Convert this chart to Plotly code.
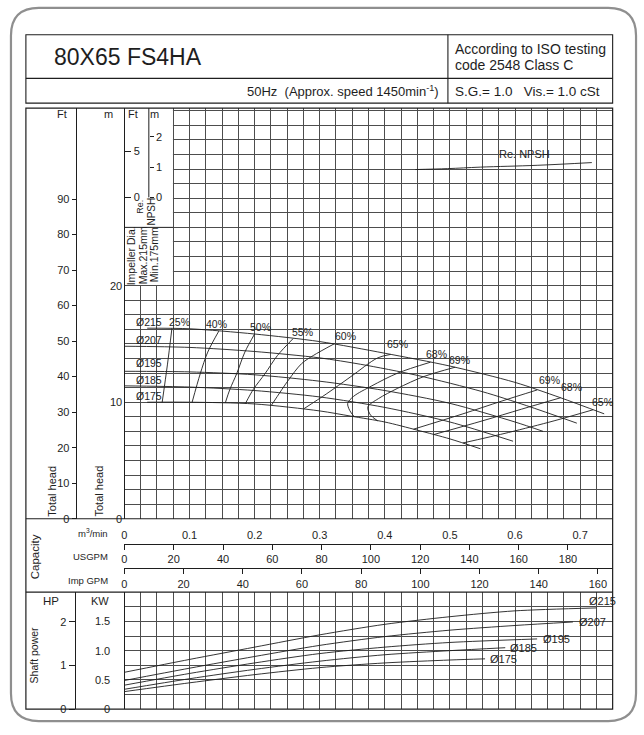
import plotly.graph_objects as go

W, H = 644, 735
FONT = "Liberation Sans, Arial, Helvetica, sans-serif"
INK = "#1e1e1e"
GRID = "#4d4d4d"

# ---------------- data ----------------
q_ticks = [0, 0.1, 0.2, 0.3, 0.4, 0.5, 0.6, 0.7]
usgpm_ticks = [0, 20, 40, 60, 80, 100, 120, 140, 160, 180]
impgpm_ticks = [0, 20, 40, 60, 80, 100, 120, 140, 160]
head_m_ticks = [0, 10, 20]
head_ft_ticks = [0, 10, 20, 30, 40, 50, 60, 70, 80, 90]
npsh_m_ticks = [0, 1, 2]
npsh_ft_ticks = [0, 5]
kw_ticks = [0, 0.5, 1.0, 1.5]
kw_labels = ["0", "0.5", "1.0", "1.5"]
hp_ticks = [0, 1, 2]

diameters = ["Ø215", "Ø207", "Ø195", "Ø185", "Ø175"]

# head curves: capacity (m3/min) vs total head (m)
head_q_215 = [0.035, 0.1, 0.2, 0.3, 0.4, 0.5, 0.6, 0.669, 0.737]
head_h_215 = [16.35, 16.3, 15.85, 15.2, 14.2, 13.1, 11.7, 10.4, 9.0]
head_q_207 = [0, 0.1, 0.2, 0.3, 0.363, 0.45, 0.55, 0.618, 0.695]
head_h_207 = [14.8, 14.7, 14.35, 13.8, 13.25, 12.3, 10.9, 9.7, 8.2]
head_q_195 = [0, 0.1, 0.2, 0.3, 0.4, 0.5, 0.6, 0.643]
head_h_195 = [12.65, 12.6, 12.35, 11.8, 11.0, 9.9, 8.3, 7.5]
head_q_185 = [0, 0.1, 0.2, 0.3, 0.4, 0.5, 0.597]
head_h_185 = [11.4, 11.3, 11.0, 10.45, 9.55, 8.3, 6.65]
head_q_175 = [0.035, 0.1, 0.2, 0.3, 0.348, 0.4, 0.45, 0.5, 0.547]
head_h_175 = [10.0, 10.0, 9.85, 9.25, 8.8, 8.3, 7.6, 6.85, 6.0]

# head curve label positions (capacity, head)
head_label_q = [0.0153, 0.0153, 0.0153, 0.0153, 0.0153]
head_label_h = [16.85, 15.3, 13.36, 11.9, 10.55]

# iso-efficiency lines (capacity, head)
eff_names = ["25%", "40%", "50%", "55%", "60%", "65%", "68%", "69%", "69%", "68%", "65%"]
eff_q = [
    [0.073, 0.066, 0.058],
    [0.145, 0.128, 0.1165, 0.104],
    [0.2, 0.185, 0.1725, 0.162, 0.155],
    [0.259, 0.235, 0.216, 0.198, 0.186],
    [0.322, 0.29, 0.272, 0.252, 0.226],
    [0.409, 0.389, 0.348, 0.31, 0.276],
    [0.47, 0.42, 0.38, 0.352, 0.343, 0.346, 0.353],
    [0.508, 0.46, 0.42, 0.39, 0.374, 0.378, 0.389],
    [0.634, 0.58, 0.52, 0.444],
    [0.67, 0.61, 0.55, 0.475],
    [0.72, 0.66, 0.59, 0.52],
]
eff_h = [
    [16.35, 13.2, 10.0],
    [16.1, 14.3, 12.45, 10.0],
    [15.85, 14.3, 12.45, 11.1, 9.95],
    [15.45, 14.0, 12.45, 11.1, 9.9],
    [15.0, 14.0, 13.3, 11.9, 9.75],
    [14.1, 13.8, 12.2, 10.7, 9.45],
    [13.43, 12.5, 11.4, 10.5, 9.9, 9.3, 8.75],
    [13.0, 12.2, 11.2, 10.3, 9.6, 8.9, 8.4],
    [11.05, 10.1, 9.0, 7.68],
    [10.38, 9.4, 8.4, 7.22],
    [9.35, 8.4, 7.4, 6.5],
]
eff_label_q = [0.084, 0.142, 0.209, 0.273, 0.339, 0.42, 0.479, 0.514, 0.653, 0.687, 0.734]
eff_label_h = [16.85, 16.68, 16.43, 16.0, 15.66, 14.98, 14.13, 13.62, 11.91, 11.32, 10.04]

# required NPSH (capacity, m)
npsh_q = [0.447, 0.496, 0.547, 0.634, 0.718]
npsh_m = [0.92, 0.95, 1.0, 1.06, 1.15]

# shaft power curves (capacity, kW)
pwr_q_215 = [0, 0.1, 0.2, 0.3, 0.4, 0.5, 0.6, 0.725]
pwr_p_215 = [0.63, 0.85, 1.06, 1.27, 1.45, 1.58, 1.68, 1.73]
pwr_q_207 = [0, 0.1, 0.2, 0.3, 0.4, 0.5, 0.6, 0.689]
pwr_p_207 = [0.49, 0.7, 0.9, 1.09, 1.24, 1.35, 1.43, 1.49]
pwr_q_195 = [0, 0.1, 0.2, 0.3, 0.4, 0.5, 0.634]
pwr_p_195 = [0.41, 0.61, 0.79, 0.95, 1.06, 1.14, 1.2]
pwr_q_185 = [0, 0.1, 0.2, 0.3, 0.4, 0.5, 0.585]
pwr_p_185 = [0.34, 0.52, 0.68, 0.82, 0.93, 1.0, 1.05]
pwr_q_175 = [0, 0.1, 0.2, 0.3, 0.4, 0.5, 0.554]
pwr_p_175 = [0.30, 0.45, 0.59, 0.71, 0.79, 0.84, 0.86]

pwr_label_q = [0.71, 0.695, 0.64, 0.59, 0.559]
pwr_label_p = [1.85, 1.49, 1.2, 1.05, 0.86]

# unit conversions
M3MIN_PER_USGPM = 0.003785411784
M3MIN_PER_IMPGPM = 0.00454609
M_PER_FT = 0.3048
KW_PER_HP = 0.7457
FT_PER_M = 1 / M_PER_FT

# ---------------- geometry (pixels) ----------------
def fx(px):
    return px / W

def fy(py):
    return 1 - py / H

GX0, GX1 = 122, 612.5
HEAD_B, HEAD_T = 523, 109
PWR_B, PWR_T = 715, 597
Q_MAX = 0.75
H_MAX = (HEAD_B - HEAD_T) / 11.75
P_MAX = 2.0
NPSH_ZERO_PX, NPSH_PX_PER_M = 199, 30.5
NPSH_LO = -(HEAD_B - NPSH_ZERO_PX) / NPSH_PX_PER_M
NPSH_HI = (NPSH_ZERO_PX - HEAD_T) / NPSH_PX_PER_M
NPSH_AXIS_Q = 0.0375

fig = go.Figure()

line_style = dict(color=INK, width=0.9)

head_q = [head_q_215, head_q_207, head_q_195, head_q_185, head_q_175]
head_h = [head_h_215, head_h_207, head_h_195, head_h_185, head_h_175]
for name, q, h in zip(diameters, head_q, head_h):
    fig.add_trace(go.Scatter(x=q, y=h, mode="lines", line=dict(shape="spline", smoothing=0.8, **line_style),
                             name=name, xaxis="x", yaxis="y", showlegend=False, hoverinfo="skip"))

for name, q, h in zip(eff_names, eff_q, eff_h):
    fig.add_trace(go.Scatter(x=q, y=h, mode="lines", line=dict(shape="spline", smoothing=0.9, **line_style),
                             name=name, xaxis="x", yaxis="y", showlegend=False, hoverinfo="skip"))

fig.add_trace(go.Scatter(x=npsh_q, y=npsh_m, mode="lines", line=dict(shape="spline", **line_style),
                         xaxis="x", yaxis="y5", showlegend=False, hoverinfo="skip"))

pwr_q = [pwr_q_215, pwr_q_207, pwr_q_195, pwr_q_185, pwr_q_175]
pwr_p = [pwr_p_215, pwr_p_207, pwr_p_195, pwr_p_185, pwr_p_175]
for name, q, p in zip(diameters, pwr_q, pwr_p):
    fig.add_trace(go.Scatter(x=q, y=p, mode="lines", line=dict(shape="spline", smoothing=0.8, **line_style),
                             name=name, xaxis="x2", yaxis="y2", showlegend=False, hoverinfo="skip"))

# dummy traces so that every scale axis is drawn
for xa, ya in [("x3", "y"), ("x4", "y"), ("x5", "y"), ("x", "y3"), ("x", "y4"),
               ("x", "y6"), ("x2", "y7"), ("x2", "y8")]:
    fig.add_trace(go.Scatter(x=[None], y=[None], xaxis=xa, yaxis=ya, showlegend=False, hoverinfo="skip"))

tickfont = dict(family=FONT, size=11, color=INK)
grid_x = dict(domain=[fx(GX0), fx(GX1)], range=[0, Q_MAX], tick0=0, dtick=0.025, showgrid=True,
              gridcolor=GRID, gridwidth=1, showticklabels=False, ticks="", zeroline=False, showline=False,
              fixedrange=True)

layout = dict(
    width=W, height=H, autosize=False,
    margin=dict(l=0, r=0, t=0, b=0),
    paper_bgcolor="white", plot_bgcolor="white",
    font=dict(family=FONT, size=11, color=INK),
    showlegend=False,
    xaxis=dict(anchor="y", **grid_x),
    yaxis=dict(domain=[fy(HEAD_B), fy(HEAD_T)], range=[0, H_MAX], tick0=0, dtick=1.25, showgrid=True,
               gridcolor=GRID, gridwidth=1, showticklabels=False, ticks="", zeroline=False, anchor="x",
               fixedrange=True),
    xaxis2=dict(anchor="y2", **grid_x),
    yaxis2=dict(domain=[fy(PWR_B), fy(PWR_T)], range=[0, P_MAX], tick0=0, dtick=0.25, showgrid=True,
                gridcolor=GRID, gridwidth=1, showticklabels=False, ticks="", zeroline=False, anchor="x2",
                fixedrange=True),
    xaxis3=dict(overlaying="x", anchor="free", position=fy(HEAD_B), side="bottom", range=[0, Q_MAX],
                tickmode="array", tickvals=q_ticks, ticks="outside", ticklen=6, tickcolor="rgba(0,0,0,0)",
                showgrid=False, zeroline=False, showline=False, tickfont=tickfont),
    xaxis4=dict(overlaying="x", anchor="free", position=fy(548), side="bottom",
                range=[0, Q_MAX / M3MIN_PER_USGPM], tickmode="array", tickvals=usgpm_ticks,
                ticks="outside", ticklen=5, tickcolor=INK, showgrid=False, zeroline=False,
                showline=True, linecolor=INK, linewidth=1, tickfont=tickfont),
    xaxis5=dict(overlaying="x", anchor="free", position=fy(573), side="bottom",
                range=[0, Q_MAX / M3MIN_PER_IMPGPM], tickmode="array", tickvals=impgpm_ticks,
                ticks="outside", ticklen=5, tickcolor=INK, showgrid=False, zeroline=False,
                showline=True, linecolor=INK, linewidth=1, tickfont=tickfont),
    yaxis3=dict(overlaying="y", anchor="free", position=fx(GX0), side="left", range=[0, H_MAX],
                tickmode="array", tickvals=head_m_ticks, ticks="", showgrid=False, zeroline=False,
                showline=True, linecolor=INK, linewidth=1, tickfont=tickfont),
    yaxis4=dict(overlaying="y", anchor="free", position=fx(73), side="left", range=[0, H_MAX * FT_PER_M],
                tickmode="array", tickvals=head_ft_ticks, ticks="outside", ticklen=4, tickcolor=INK,
                showgrid=False, zeroline=False, showline=True, linecolor=INK, linewidth=1, tickfont=tickfont),
    yaxis5=dict(overlaying="y", anchor="free", position=fx(GX0 + NPSH_AXIS_Q / Q_MAX * (GX1 - GX0)),
                side="right", range=[NPSH_LO, NPSH_HI], tickmode="array", tickvals=npsh_m_ticks,
                ticks="outside", ticklen=4, tickcolor=INK, showgrid=False, zeroline=False, showline=False,
                tickfont=tickfont),
    yaxis6=dict(overlaying="y", anchor="free", position=fx(GX0), side="right",
                range=[NPSH_LO * FT_PER_M, NPSH_HI * FT_PER_M], tickmode="array", tickvals=npsh_ft_ticks,
                ticks="outside", ticklen=6, tickcolor=INK, showgrid=False, zeroline=False, showline=False,
                tickfont=tickfont),
    yaxis7=dict(overlaying="y2", anchor="free", position=fx(GX0), side="left", range=[0, P_MAX],
                tickmode="array", tickvals=kw_ticks, ticktext=kw_labels, ticks="outside", ticklen=12,
                tickcolor="rgba(0,0,0,0)", showgrid=False, zeroline=False, showline=True, linecolor=INK,
                linewidth=1, tickfont=tickfont),
    yaxis8=dict(overlaying="y2", anchor="free", position=fx(72), side="left", range=[0, P_MAX / KW_PER_HP],
                tickmode="array", tickvals=hp_ticks, ticks="outside", ticklen=6, tickcolor=INK,
                showgrid=False, zeroline=False, showline=True, linecolor=INK, linewidth=1, tickfont=tickfont),
)
fig.update_layout(**layout)

shapes = []
def pline(x0, y0, x1, y1, w=1.1, color=INK):
    shapes.append(dict(type="line", xref="paper", yref="paper", x0=fx(x0), y0=fy(y0), x1=fx(x1), y1=fy(y1),
                       line=dict(color=color, width=w), layer="above"))

def prect(x0, y0, x1, y1, w=1.1):
    shapes.append(dict(type="rect", xref="paper", yref="paper", x0=fx(x0), y0=fy(y0), x1=fx(x1), y1=fy(y1),
                       line=dict(color=INK, width=w), fillcolor="rgba(0,0,0,0)", layer="above"))

# mask grid behind NPSH / impeller boxes
shapes.append(dict(type="rect", xref="x", yref="y", x0=0.0008, x1=0.0745, y0=20.06, y1=H_MAX,
                   fillcolor="white", line=dict(width=0), layer="between"))
shapes.append(dict(type="line", xref="x", yref="y", x0=0, x1=0.075, y0=25, y1=25,
                   line=dict(color=INK, width=1), layer="above"))
shapes.append(dict(type="line", xref="x", yref="y5", x0=NPSH_AXIS_Q, x1=NPSH_AXIS_Q, y0=0, y1=NPSH_HI,
                   line=dict(color=INK, width=1), layer="above"))

# frames
prect(23, 35, GX1, 104)
pline(23, 79, GX1, 79)
pline(447, 35, 447, 104)
prect(23, HEAD_T, GX1, PWR_B, w=1.2)
pline(23, HEAD_B, GX1, HEAD_B)
pline(23, PWR_T, GX1, PWR_T)

# outer rounded border
x0, y0, x1, y1, r = 8, 8, 636, 727, 28
pts = lambda a, b: f"{fx(a):.5f},{fy(b):.5f}"
path = (f"M {pts(x0 + r, y0)} L {pts(x1 - r, y0)} Q {pts(x1, y0)} {pts(x1, y0 + r)} "
        f"L {pts(x1, y1 - r)} Q {pts(x1, y1)} {pts(x1 - r, y1)} L {pts(x0 + r, y1)} "
        f"Q {pts(x0, y1)} {pts(x0, y1 - r)} L {pts(x0, y0 + r)} Q {pts(x0, y0)} {pts(x0 + r, y0)} Z")
shapes.append(dict(type="path", xref="paper", yref="paper", path=path,
                   line=dict(color="#8f8f8f", width=2.2), layer="above"))
fig.update_layout(shapes=shapes)

ann = []
def ptext(text, x, y, size=11, xanchor="center", angle=0):
    ann.append(dict(text=text, x=fx(x), y=fy(y), xref="paper", yref="paper", showarrow=False,
                    xanchor=xanchor, yanchor="middle", textangle=angle,
                    font=dict(family=FONT, size=size, color=INK)))

ptext("80X65 FS4HA", 49, 57, size=23, xanchor="left")
ptext("According to ISO testing", 452, 49, size=14, xanchor="left")
ptext("code 2548 Class C", 452, 66, size=14, xanchor="left")
ptext("50Hz  (Approx. speed 1450min<sup>-1</sup>)", 440, 92, size=13, xanchor="right")
ptext("S.G.= 1.0   Vis.= 1.0 cSt", 452, 92, size=13.5, xanchor="left")

ptext("Ft", 59, 115); ptext("m", 106, 115); ptext("Ft", 131, 115); ptext("m", 152, 115)
ptext("Re.", 138, 208, size=9, angle=-90)
ptext("NPSH", 149, 213, size=10, angle=-90)
ptext("Impeller Dia.", 128, 258, size=10.5, angle=-90)
ptext("Max.215mm", 141, 257, size=10.5, angle=-90)
ptext("Min.175mm", 152, 257, size=10.5, angle=-90)
ptext("Total head", 49, 495, size=11, angle=-90)
ptext("Total head", 96, 495, size=11, angle=-90)
ptext("Capacity", 33, 561, size=11.5, angle=-90)
ptext("m<sup>3</sup>/min", 107, 537, size=9.5, xanchor="right")
ptext("USGPM", 107, 561, size=9.5, xanchor="right")
ptext("Imp GPM", 107, 585, size=9.5, xanchor="right")
ptext("HP", 48, 606, size=11.5)
ptext("KW", 97, 606, size=11)
ptext("Shaft power", 31, 660, size=10.5, angle=-90)

for name, q, h in zip(diameters, head_label_q, head_label_h):
    ann.append(dict(text=name, x=q, y=h, xref="x", yref="y", showarrow=False, xanchor="left",
                    yanchor="middle", font=dict(family=FONT, size=10.5, color=INK)))
for name, q, h in zip(eff_names, eff_label_q, eff_label_h):
    ann.append(dict(text=name, x=q, y=h, xref="x", yref="y", showarrow=False, xanchor="center",
                    yanchor="middle", font=dict(family=FONT, size=10.5, color=INK)))
for name, q, p in zip(diameters, pwr_label_q, pwr_label_p):
    ann.append(dict(text=name, x=q, y=p, xref="x2", yref="y2", showarrow=False, xanchor="left",
                    yanchor="middle", font=dict(family=FONT, size=11, color=INK)))
ann.append(dict(text="Re. NPSH", x=0.615, y=1.44, xref="x", yref="y5", showarrow=False,
                xanchor="center", yanchor="middle", font=dict(family=FONT, size=11, color=INK)))
fig.update_layout(annotations=ann)

fig.write_html("out.html", config={"displayModeBar": False, "staticPlot": True},
               post_script="document.body.style.margin='0px';document.body.style.padding='0px';")
